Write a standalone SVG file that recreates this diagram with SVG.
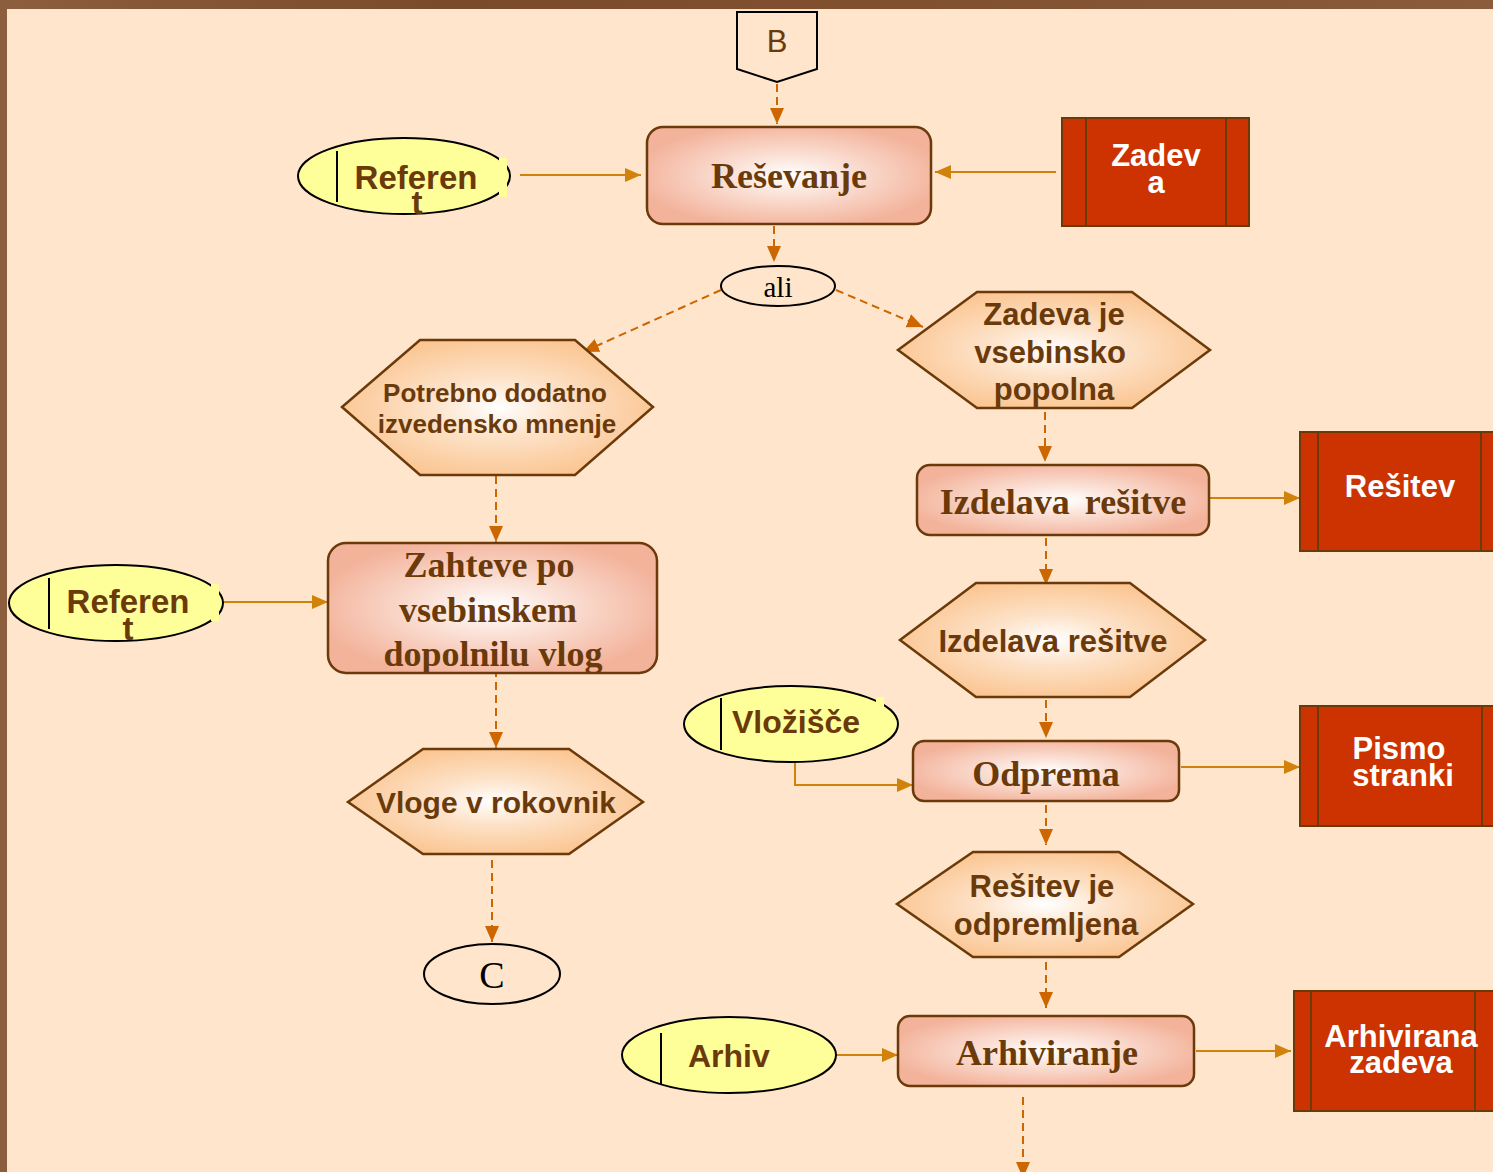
<svg xmlns="http://www.w3.org/2000/svg" width="1493" height="1172" viewBox="0 0 1493 1172">
<defs>
<radialGradient id="gRect" cx="0.5" cy="0.5" r="0.55">
<stop offset="0" stop-color="#FFFFFF"/>
<stop offset="0.35" stop-color="#FBE3D9"/>
<stop offset="1" stop-color="#F3B29A"/>
</radialGradient>
<radialGradient id="gHex" cx="0.5" cy="0.5" r="0.55">
<stop offset="0" stop-color="#FFFFFF"/>
<stop offset="0.4" stop-color="#FDE2C8"/>
<stop offset="1" stop-color="#FBC48F"/>
</radialGradient>
<linearGradient id="gTop" x1="0" y1="0" x2="1" y2="0">
<stop offset="0" stop-color="#8C5E3E"/>
<stop offset="0.3" stop-color="#7A4A2C"/>
<stop offset="0.6" stop-color="#80502F"/>
<stop offset="1" stop-color="#8A5C3C"/>
</linearGradient>
<marker id="aDash" markerUnits="userSpaceOnUse" markerWidth="16" markerHeight="16" refX="16" refY="7" orient="auto">
<path d="M0,0 L16,7 L0,14 z" fill="#CC6600"/>
</marker>
<marker id="aSolid" markerUnits="userSpaceOnUse" markerWidth="16" markerHeight="16" refX="16" refY="7" orient="auto">
<path d="M0,0 L16,7 L0,14 z" fill="#D0820A"/>
</marker>
<style>
.rr{fill:url(#gRect);stroke:#6B3A0A;stroke-width:2.5}
.hx{fill:url(#gHex);stroke:#6B3A0A;stroke-width:2.5}
.el{fill:#FFFF99;stroke:#000;stroke-width:2}
.doc{fill:#CC3300;stroke:#6B3A0A;stroke-width:2}
.docl{stroke:#6B3A0A;stroke-width:2}
.vl{stroke:#000;stroke-width:2}
.ts{font-family:'Liberation Serif',serif;font-weight:bold;font-size:36px;fill:#6B3A0A;text-anchor:middle}
.tb{font-family:'Liberation Sans',Arial,sans-serif;font-weight:bold;fill:#6B3A0A;text-anchor:middle}
.tw{font-family:'Liberation Sans',Arial,sans-serif;font-weight:bold;font-size:31px;fill:#FFFFFF;text-anchor:middle}
.dash{fill:none;stroke:#CC6600;stroke-width:2;stroke-dasharray:8,5;marker-end:url(#aDash)}
.sol{fill:none;stroke:#D0820A;stroke-width:2;marker-end:url(#aSolid)}
</style>
</defs>
<rect x="0" y="0" width="1493" height="1172" fill="#FEE5CB"/>
<rect x="0" y="0" width="1493" height="9" fill="url(#gTop)"/>
<rect x="0" y="0" width="7" height="1172" fill="#8C5E3E"/>

<g id="connectors">
<line class="dash" x1="777" y1="84" x2="777" y2="124"/>
<line class="sol" x1="520" y1="175" x2="641" y2="175"/>
<line class="sol" x1="1056" y1="172" x2="935" y2="172"/>
<line class="dash" x1="774" y1="226" x2="774" y2="262"/>
<line class="dash" x1="721" y1="290" x2="583" y2="352"/>
<line class="dash" x1="836" y1="290" x2="923" y2="327"/>
<line class="dash" x1="496" y1="476" x2="496" y2="542"/>
<line class="sol" x1="223" y1="602" x2="328" y2="602"/>
<line class="dash" x1="496" y1="669" x2="496" y2="748"/>
<line class="dash" x1="492" y1="860" x2="492" y2="942"/>
<line class="dash" x1="1045" y1="412" x2="1045" y2="462"/>
<line class="sol" x1="1207" y1="498" x2="1300" y2="498"/>
<line class="dash" x1="1046" y1="538" x2="1046" y2="585"/>
<line class="dash" x1="1046" y1="700" x2="1046" y2="738"/>
<polyline class="sol" points="795,763 795,785 913,785"/>
<line class="sol" x1="1181" y1="767" x2="1300" y2="767"/>
<line class="dash" x1="1046" y1="805" x2="1046" y2="845"/>
<line class="dash" x1="1046" y1="962" x2="1046" y2="1008"/>
<line class="sol" x1="836" y1="1055" x2="898" y2="1055"/>
<line class="sol" x1="1196" y1="1051" x2="1291" y2="1051"/>
<line class="dash" x1="1023" y1="1097" x2="1023" y2="1178"/>
</g>

<g id="nodeB">
<polygon points="737,12 817,12 817,69 777,82 737,69" fill="#FEE5CB" stroke="#000" stroke-width="2"/>
<text x="777" y="52" font-family="'Liberation Sans',Arial,sans-serif" font-size="31" fill="#6B3A0A" text-anchor="middle">B</text>
</g>

<g id="nodeResevanje">
<rect class="rr" x="647" y="127" width="284" height="97" rx="16"/>
<text class="ts" x="789" y="188">Reševanje</text>
</g>

<g id="nodeReferent1">
<ellipse class="el" cx="404" cy="176" rx="106" ry="38"/>
<rect x="499" y="158" width="8" height="39" fill="#FFFF99"/>
<line class="vl" x1="337" y1="151" x2="337" y2="202"/>
<text class="tb" x="416" y="189" font-size="33">Referen</text>
<text class="tb" x="417" y="214" font-size="33">t</text>
</g>

<g id="nodeZadeva">
<rect class="doc" x="1062" y="118" width="187" height="108"/>
<line class="docl" x1="1086" y1="118" x2="1086" y2="226"/>
<line class="docl" x1="1226" y1="118" x2="1226" y2="226"/>
<text class="tw" x="1156" y="166">Zadev</text>
<text class="tw" x="1156" y="193">a</text>
</g>

<g id="nodeAli">
<ellipse cx="778" cy="286" rx="57" ry="20" fill="#FEE5CB" stroke="#000" stroke-width="2"/>
<text x="778" y="297" font-family="'Liberation Serif',serif" font-size="29" fill="#000" text-anchor="middle">ali</text>
</g>

<g id="nodePotrebno">
<polygon class="hx" points="420,340 575,340 653,407 575,475 420,475 342,407"/>
<text class="tb" x="495" y="402" font-size="26">Potrebno dodatno</text>
<text class="tb" x="497" y="433" font-size="26">izvedensko mnenje</text>
</g>

<g id="nodeZadevaJe">
<polygon class="hx" points="977,292 1132,292 1210,350 1132,408 977,408 898,350"/>
<text class="tb" x="1054" y="325" font-size="31">Zadeva je</text>
<text class="tb" x="1050" y="363" font-size="31">vsebinsko</text>
<text class="tb" x="1054" y="400" font-size="31">popolna</text>
</g>

<g id="nodeZahteve">
<rect class="rr" x="328" y="543" width="329" height="130" rx="18"/>
<text class="ts" x="489" y="577">Zahteve po</text>
<text class="ts" x="488" y="622">vsebinskem</text>
<text class="ts" x="493" y="666">dopolnilu vlog</text>
</g>

<g id="nodeReferent2">
<ellipse class="el" cx="116" cy="603" rx="107" ry="38"/>
<rect x="211" y="584" width="8" height="37" fill="#FFFF99"/>
<line class="vl" x1="49" y1="578" x2="49" y2="629"/>
<text class="tb" x="128" y="613" font-size="33">Referen</text>
<text class="tb" x="128" y="640" font-size="33">t</text>
</g>

<g id="nodeVloge">
<polygon class="hx" points="423,749 569,749 643,802 569,854 423,854 348,802"/>
<text class="tb" x="496" y="813" font-size="30">Vloge v rokovnik</text>
</g>

<g id="nodeC">
<ellipse cx="492" cy="974" rx="68" ry="30" fill="#FEE5CB" stroke="#000" stroke-width="2"/>
<text x="492" y="988" font-family="'Liberation Serif',serif" font-size="38" fill="#000" text-anchor="middle">C</text>
</g>

<g id="nodeIzdelavaRect">
<rect class="rr" x="917" y="465" width="292" height="70" rx="13"/>
<text class="ts" x="1063" y="514" word-spacing="6">Izdelava rešitve</text>
</g>

<g id="nodeResitev">
<rect class="doc" x="1300" y="432" width="200" height="119"/>
<line class="docl" x1="1318" y1="432" x2="1318" y2="551"/>
<line class="docl" x1="1481" y1="432" x2="1481" y2="551"/>
<text class="tw" x="1400" y="497">Rešitev</text>
</g>

<g id="nodeIzdelavaHex">
<polygon class="hx" points="976,583 1130,583 1205,640 1130,697 976,697 900,640"/>
<text class="tb" x="1053" y="652" font-size="31">Izdelava rešitve</text>
</g>

<g id="nodeVlozisce">
<ellipse class="el" cx="791" cy="724" rx="107" ry="38"/>
<rect x="876" y="697" width="8" height="10" fill="#FFFF99"/>
<line class="vl" x1="721" y1="698" x2="721" y2="750"/>
<text class="tb" x="732" y="733" font-size="32" text-anchor="start" style="text-anchor:start">Vložišče</text>
</g>

<g id="nodeOdprema">
<rect class="rr" x="913" y="741" width="266" height="60" rx="11"/>
<text class="ts" x="1046" y="786">Odprema</text>
</g>

<g id="nodePismo">
<rect class="doc" x="1300" y="706" width="200" height="120"/>
<line class="docl" x1="1318" y1="706" x2="1318" y2="826"/>
<line class="docl" x1="1482" y1="706" x2="1482" y2="826"/>
<text class="tw" x="1399" y="759">Pismo</text>
<text class="tw" x="1403" y="786">stranki</text>
</g>

<g id="nodeResitevJe">
<polygon class="hx" points="973,852 1119,852 1193,904 1119,957 973,957 897,904"/>
<text class="tb" x="1042" y="897" font-size="31">Rešitev je</text>
<text class="tb" x="1046" y="935" font-size="31">odpremljena</text>
</g>

<g id="nodeArhiviranje">
<rect class="rr" x="898" y="1016" width="296" height="70" rx="12"/>
<text class="ts" x="1047" y="1065">Arhiviranje</text>
</g>

<g id="nodeArhiv">
<ellipse class="el" cx="729" cy="1055" rx="107" ry="38"/>
<line class="vl" x1="661" y1="1033" x2="661" y2="1084"/>
<text class="tb" x="688" y="1067" font-size="32" style="text-anchor:start">Arhiv</text>
</g>

<g id="nodeArhivirana">
<rect class="doc" x="1294" y="991" width="206" height="120"/>
<line class="docl" x1="1311" y1="991" x2="1311" y2="1111"/>
<line class="docl" x1="1475" y1="991" x2="1475" y2="1111"/>
<text class="tw" x="1401" y="1047">Arhivirana</text>
<text class="tw" x="1401" y="1073">zadeva</text>
</g>
</svg>
